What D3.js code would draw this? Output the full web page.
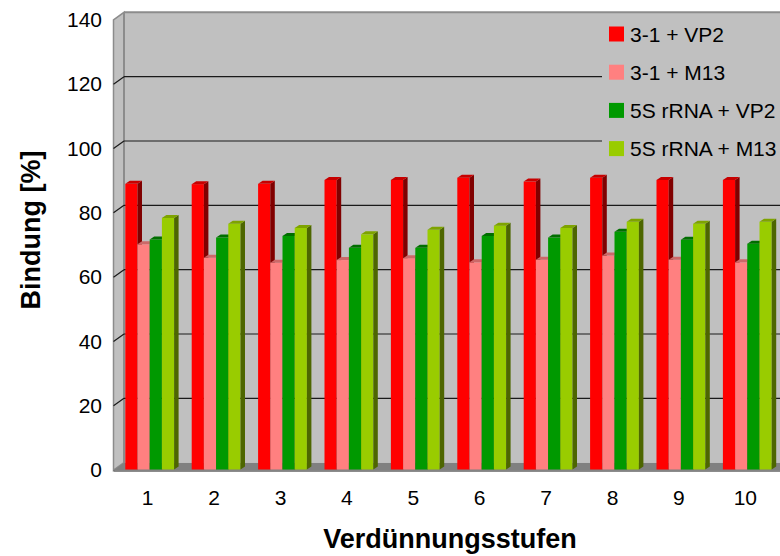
<!DOCTYPE html>
<html>
<head>
<meta charset="utf-8">
<script src="https://cdn.jsdelivr.net/npm/d3@7"></script>
<style>
  html, body { margin: 0; padding: 0; background: #ffffff; }
  svg { display: block; font-family: "Liberation Sans", Arial, sans-serif; }
</style>
</head>
<body>
<svg id="chart" width="780" height="556"></svg>
<script>
// Dilution steps on the x axis
const categories = ["1", "2", "3", "4", "5", "6", "7", "8", "9", "10"];

// Binding in percent for each probe combination
const seriesNames = ["3-1 + VP2", "3-1 + M13", "5S rRNA + VP2", "5S rRNA + M13"];
const vp2_31   = [88.8, 88.7, 88.8, 90.0, 90.0, 90.7, 89.5, 90.7, 90.0, 90.0];
const m13_31   = [70.0, 65.8, 64.3, 65.1, 65.7, 64.4, 65.2, 66.5, 65.2, 64.4];
const vp2_5s   = [71.5, 72.1, 72.6, 68.9, 68.9, 72.6, 72.1, 73.9, 71.4, 70.2];
const m13_5s   = [78.2, 76.4, 75.1, 73.1, 74.5, 75.8, 75.1, 77.0, 76.4, 77.0];
const seriesValues = [vp2_31, m13_31, vp2_5s, m13_5s];

const yTicks = [0, 20, 40, 60, 80, 100, 120, 140];

// Face colours: front, right side, top
const frontColors = ["#ff0000", "#ff8080", "#009900", "#99cc00"];
const sideColors  = ["#800000", "#8a4545", "#004d00", "#4d6600"];
const topColors   = ["#c80000", "#cc6868", "#006e00", "#7ea300"];

const svg = d3.select("#chart");
const W = 780;

// 3D wall geometry
const backLeft = 124, frontLeft = 113.5;
const unit = 3.217;
const yWall  = d3.scaleLinear().domain([0, 140]).range([462.7, 462.7 - 140 * unit]);
const yFront = d3.scaleLinear().domain([0, 140]).range([470.2, 470.2 - 140 * unit]);
const yBar   = d3.scaleLinear().domain([0, 140]).range([469.5, 469.5 - 140 * unit]);

const x = d3.scaleBand().domain(categories).range([116.5, 780.5])
  .paddingInner(0.265).paddingOuter(0.1325);
const xs = d3.scaleBand().domain(seriesNames).range([0, x.bandwidth()]);

const wallFill = "#c0c0c0", edge = "#8c8c8c";

// back wall
svg.append("rect")
  .attr("x", backLeft).attr("y", yWall(140))
  .attr("width", W + 20 - backLeft).attr("height", yWall(0) - yWall(140))
  .attr("fill", wallFill);
svg.append("line")
  .attr("x1", backLeft).attr("x2", W + 20)
  .attr("y1", yWall(140)).attr("y2", yWall(140))
  .attr("stroke", edge).attr("stroke-width", 2);

// left side wall
svg.append("polygon")
  .attr("points", [[frontLeft, yFront(140)], [backLeft, yWall(140)], [backLeft, yWall(0)], [frontLeft, yFront(0)]].join(" "))
  .attr("fill", wallFill).attr("stroke", edge).attr("stroke-width", 1.5);
svg.append("line")
  .attr("x1", backLeft).attr("x2", backLeft)
  .attr("y1", yWall(140)).attr("y2", yWall(0))
  .attr("stroke", edge).attr("stroke-width", 2);

// floor
svg.append("polygon")
  .attr("points", [[frontLeft, yFront(0)], [backLeft, yWall(0)], [W + 20, yWall(0)], [W + 20, yFront(0)]].join(" "))
  .attr("fill", "#808080");
svg.append("line")
  .attr("x1", frontLeft).attr("x2", W + 20)
  .attr("y1", yFront(0) + 0.8).attr("y2", yFront(0) + 0.8)
  .attr("stroke", "#666666").attr("stroke-width", 1.5);

// gridlines on back and side wall
const grid = yTicks.filter(v => v > 0 && v < 140);
svg.append("g").selectAll("line.back").data(grid).join("line")
  .attr("x1", backLeft).attr("x2", W + 20)
  .attr("y1", d => yWall(d)).attr("y2", d => yWall(d))
  .attr("stroke", "#1a1a1a").attr("stroke-width", 1.2);
svg.append("g").selectAll("line.side").data(grid).join("line")
  .attr("x1", frontLeft).attr("x2", backLeft)
  .attr("y1", d => yFront(d)).attr("y2", d => yWall(d))
  .attr("stroke", "#1a1a1a").attr("stroke-width", 1.2);

// 3D columns
const dx = 4.5, dy = 3;
const bars = [];
categories.forEach((c, i) => {
  seriesNames.forEach((s, j) => {
    bars.push({ cat: c, s: j, v: seriesValues[j][i] });
  });
});
const barG = svg.append("g");
bars.forEach(b => {
  const x0 = x(b.cat) + xs(seriesNames[b.s]);
  const x1 = x0 + xs.bandwidth();
  const yt = yBar(b.v), yb = yBar(0);
  const g = barG.append("g");
  g.append("rect").attr("x", x0).attr("y", yt).attr("width", x1 - x0).attr("height", yb - yt)
    .attr("fill", frontColors[b.s]);
  g.append("polygon")
    .attr("points", [[x1, yt], [x1 + dx, yt - dy], [x1 + dx, yb - dy], [x1, yb]].join(" "))
    .attr("fill", sideColors[b.s]);
  g.append("polygon")
    .attr("points", [[x0, yt], [x0 + dx, yt - dy], [x1 + dx, yt - dy], [x1, yt]].join(" "))
    .attr("fill", topColors[b.s]);
});

// y axis labels
const yAxis = svg.append("g").attr("transform", "translate(104,0)")
  .call(d3.axisLeft(yFront).tickValues(yTicks).tickSize(0).tickPadding(2));
yAxis.select(".domain").remove();
yAxis.selectAll("text").attr("font-size", 21).attr("fill", "#000")
  .attr("font-family", "Liberation Sans, Arial, sans-serif");

// x axis labels
const xAxis = svg.append("g").attr("transform", "translate(-2,488)")
  .call(d3.axisBottom(x).tickSize(0).tickPadding(2));
xAxis.select(".domain").remove();
xAxis.selectAll("text").attr("font-size", 21).attr("fill", "#000")
  .attr("font-family", "Liberation Sans, Arial, sans-serif");

// axis titles
svg.append("text")
  .attr("transform", "translate(40,230) rotate(-90)")
  .attr("text-anchor", "middle")
  .attr("font-size", 27).attr("font-weight", "bold")
  .text("Bindung [%]");
svg.append("text")
  .attr("x", 450).attr("y", 548)
  .attr("text-anchor", "middle")
  .attr("font-size", 27).attr("font-weight", "bold")
  .text("Verdünnungsstufen");

// legend
const legend = svg.append("g");
legend.append("rect").attr("x", 602).attr("y", 14).attr("width", 200).attr("height", 150)
  .attr("fill", wallFill);
const li = legend.selectAll("g.item").data(seriesNames).join("g")
  .attr("transform", (d, i) => `translate(609,${34 + i * 38.2})`);
li.append("rect").attr("x", 0).attr("y", -7.5).attr("width", 15).attr("height", 15)
  .attr("fill", (d, i) => frontColors[i]);
li.append("text").attr("x", 21).attr("y", 7.5).attr("font-size", 21).attr("fill", "#000")
  .text(d => d);
</script>
</body>
</html>
